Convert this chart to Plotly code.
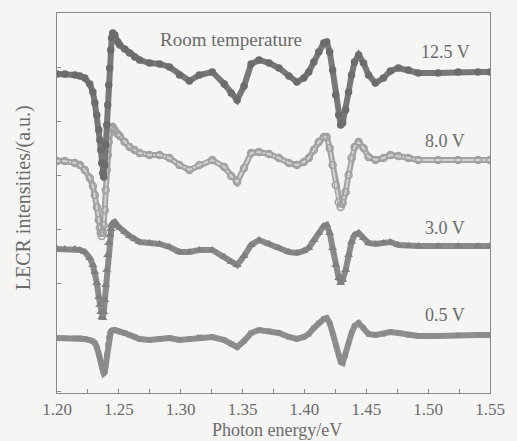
import plotly.graph_objects as go

# Photon energy (eV) sample points
energy = [1.2000, 1.2064, 1.2145, 1.2185, 1.2225, 1.2265, 1.2290, 1.2306, 1.2322, 1.2338,
          1.2346, 1.2354, 1.2362, 1.2370, 1.2378, 1.2386, 1.2394, 1.2402, 1.2410, 1.2418,
          1.2426, 1.2434, 1.2442, 1.2451, 1.2467, 1.2491, 1.2507, 1.2547, 1.2587, 1.2628,
          1.2668, 1.2748, 1.2829, 1.2909, 1.2990, 1.3070, 1.3150, 1.3255, 1.3352, 1.3408,
          1.3456, 1.3512, 1.3569, 1.3633, 1.3714, 1.3794, 1.3874, 1.3939, 1.3995, 1.4035,
          1.4076, 1.4116, 1.4156, 1.4180, 1.4204, 1.4228, 1.4253, 1.4277, 1.4293, 1.4309,
          1.4333, 1.4357, 1.4381, 1.4405, 1.4438, 1.4478, 1.4518, 1.4574, 1.4639, 1.4695,
          1.4759, 1.4840, 1.4920, 1.5081, 1.5242, 1.5403, 1.5500]

# LECR intensities (a.u., curves vertically offset as in the figure)
v12_5 = [319, 319, 318, 317, 315, 309, 301, 290, 278, 263,
         253, 243, 230, 220, 216, 228, 248, 268, 288, 308,
         325, 343, 355, 360, 358, 351, 348, 344, 340, 336,
         333, 330, 329, 326, 318, 312, 318, 321, 309, 300,
         293, 307, 329, 333, 330, 325, 317, 311, 315, 321,
         331, 341, 350, 351, 341, 323, 298, 278, 268, 270,
         283, 301, 318, 331, 338, 330, 318, 310, 315, 322,
         325, 323, 320, 320, 321, 321, 321]

v8_0 = [232, 232, 230, 228, 223, 215, 207, 198, 186, 173,
        165, 160, 157, 161, 168, 183, 203, 223, 238, 251,
        259, 264, 266, 266, 263, 259, 257, 251, 246, 243,
        240, 238, 238, 235, 228, 223, 228, 233, 226, 217,
        211, 225, 240, 241, 239, 235, 230, 228, 231, 235,
        243, 251, 256, 256, 245, 228, 208, 191, 186, 190,
        201, 218, 235, 246, 251, 245, 236, 233, 235, 238,
        237, 235, 233, 233, 233, 233, 233]

v3_0 = [144, 144, 144, 143, 141, 135, 128, 121, 110, 96,
        88, 81, 76, 75, 81, 93, 108, 123, 138, 150,
        158, 164, 168, 170, 171, 167, 165, 161, 157, 154,
        151, 150, 149, 146, 141, 141, 143, 143, 136, 131,
        128, 137, 148, 153, 149, 145, 141, 140, 142, 145,
        153, 160, 167, 168, 160, 145, 128, 115, 110, 113,
        123, 138, 151, 158, 160, 155, 150, 149, 150, 151,
        148, 147, 147, 147, 147, 147, 147]

v0_5 = [55, 55, 55, 55, 54, 53, 52, 50, 46, 40,
        36, 31, 26, 22, 20, 21, 28, 38, 48, 55,
        59, 61, 62, 63, 63, 62, 61, 60, 58, 56,
        54, 53, 54, 55, 53, 54, 56, 56, 53, 49,
        46, 52, 60, 63, 62, 60, 56, 54, 56, 59,
        65, 70, 74, 75, 70, 60, 48, 38, 31, 30,
        38, 50, 60, 67, 70, 65, 59, 58, 59, 61,
        60, 58, 57, 57, 58, 58, 58]

x_ticks = [1.20, 1.25, 1.30, 1.35, 1.40, 1.45, 1.50, 1.55]
x_tick_labels = ["1.20", "1.25", "1.30", "1.35", "1.40", "1.45", "1.50", "1.55"]
curve_labels = ["12.5 V", "8.0 V", "3.0 V", "0.5 V"]
label_y = [341, 252, 165, 78]

FONT = "Liberation Serif"
TXT = "#6b6b6b"
BG = "#f5f5f3"

fig = go.Figure()

# 0.5 V
fig.add_trace(go.Scatter(x=energy, y=v0_5, mode="lines+markers",
                         line=dict(color="#8e8e8e", width=6),
                         marker=dict(symbol="square", size=5, color="#8a8a8a"),
                         showlegend=False))
# 3.0 V
fig.add_trace(go.Scatter(x=energy, y=v3_0, mode="lines+markers",
                         line=dict(color="#8a8a8a", width=6),
                         marker=dict(symbol="triangle-up", size=8, color="#808080"),
                         showlegend=False))
# 8.0 V (open circles)
fig.add_trace(go.Scatter(x=energy, y=v8_0, mode="lines",
                         line=dict(color="#a2a2a2", width=6),
                         showlegend=False))
fig.add_trace(go.Scatter(x=energy, y=v8_0, mode="lines+markers",
                         line=dict(color="#d2d2d2", width=2),
                         marker=dict(symbol="circle-open", size=7,
                                     color="#a0a0a0", line=dict(width=1.5)),
                         showlegend=False))
# 12.5 V (filled circles)
fig.add_trace(go.Scatter(x=energy, y=v12_5, mode="lines+markers",
                         line=dict(color="#787878", width=6),
                         marker=dict(symbol="circle", size=7.5, color="#6c6c6c"),
                         showlegend=False))

for txt, yv in zip(curve_labels, label_y):
    fig.add_annotation(x=1.5138, y=yv, text=txt, showarrow=False,
                       font=dict(family=FONT, size=18, color=TXT),
                       xanchor="center", yanchor="middle")

fig.add_annotation(x=1.3408, y=354, text="Room temperature", showarrow=False,
                   font=dict(family=FONT, size=19, color=TXT),
                   xanchor="center", yanchor="middle")

fig.add_annotation(x=0.508, y=-0.097, xref="paper", yref="paper",
                   text="Photon energy/eV", showarrow=False,
                   font=dict(family=FONT, size=18, color=TXT),
                   xanchor="center", yanchor="middle")
fig.add_annotation(x=-0.078, y=0.513, xref="paper", yref="paper",
                   text="LECR intensities/(a.u.)", showarrow=False, textangle=-90,
                   font=dict(family=FONT, size=20, color=TXT),
                   xanchor="center", yanchor="middle")

fig.update_xaxes(range=[1.2, 1.55], tickvals=x_ticks, ticktext=x_tick_labels,
                 ticks="inside", ticklen=4, tickcolor="#8a8a8a",
                 minor=dict(ticks="inside", ticklen=4, dtick=0.025, tick0=1.2,
                            tickcolor="#8a8a8a"),
                 showline=True, linecolor="#8a8a8a", linewidth=1, mirror=True,
                 showgrid=False, zeroline=False,
                 tickfont=dict(family=FONT, size=17, color=TXT),
                 ticklabelstandoff=1)
fig.update_yaxes(range=[0, 380], tick0=2, dtick=54, ticks="inside", ticklen=4,
                 tickcolor="#8a8a8a", showticklabels=False,
                 showline=True, linecolor="#8a8a8a", linewidth=1, mirror=True,
                 showgrid=False, zeroline=False)

fig.update_layout(width=517, height=441,
                  margin=dict(l=57, r=25, t=13, b=48),
                  paper_bgcolor=BG, plot_bgcolor=BG)

fig.write_html("out.html")
